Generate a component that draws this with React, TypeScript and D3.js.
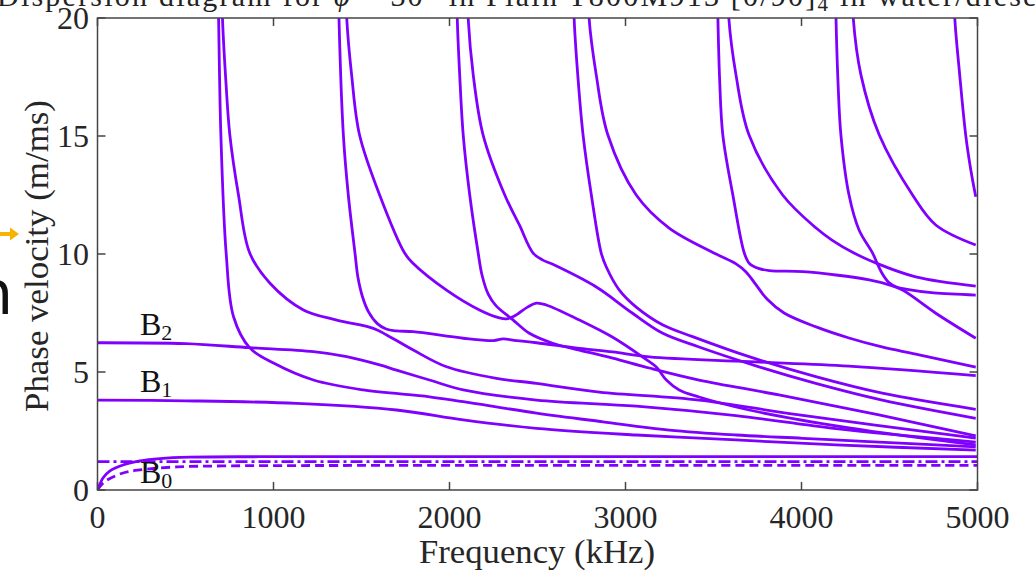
import React from 'react';
import * as d3 from 'd3';

type Pt = [number, number];

const xTicks = [0, 1000, 2000, 3000, 4000, 5000];
const yTicks = [0, 5, 10, 15, 20];

const titleText = 'Dispersion diagram for ';
const xLabel = 'Frequency (kHz)';
const yLabel = 'Phase velocity (m/ms)';

// fundamental / fluid lines
const b0Solid: Pt[] = [[0, 0], [14, 0.25], [31, 0.51], [71, 0.81], [145, 1.06], [241, 1.23], [355, 1.33], [525, 1.39], [922, 1.41], [2500, 1.41], [5000, 1.41]];
const fluidDashed: Pt[] = [[0, 0], [20, 0.2], [54, 0.42], [145, 0.72], [241, 0.85], [428, 0.97], [712, 1.02], [1500, 1.04], [5000, 1.04]];
const fluidDashDot: Pt[] = [[0, 1.2], [5000, 1.2]];

const modeB1: Pt[] = [[0, 3.81], [500, 3.78], [1132, 3.67], [1699, 3.39], [2078, 2.97], [2494, 2.61], [3061, 2.33], [3628, 2.12], [4196, 1.91], [4990, 1.69]];
const modeB2: Pt[] = [[0, 6.24], [500, 6.2], [865, 6.03], [1227, 5.86], [1416, 5.65], [1603, 5.3], [1699, 5.08], [1886, 4.66], [2078, 4.24], [2494, 3.81], [3061, 3.55], [3628, 3.15], [4196, 2.6], [4990, 2.03]];
const mode1L: Pt[] = [[684, 21.5], [688, 20], [701, 15.04], [731, 10.04], [773, 7.34], [865, 6.02], [1000, 5.38], [1227, 4.66], [1510, 4.24], [1886, 3.95], [2078, 3.74], [2494, 3.26], [2872, 2.89], [3248, 2.54], [3628, 2.33], [4007, 2.19], [4383, 2.05], [4990, 1.83]];
const mode1R: Pt[] = [[706, 21.5], [710, 20], [729, 17.37], [752, 15.04], [801, 12.5], [865, 10.04], [980, 8.76], [1170, 7.63], [1359, 7.2], [1567, 6.85], [1643, 6.57], [1794, 5.93], [1983, 5.22], [2267, 4.73], [2494, 4.52], [2851, 4.15], [3418, 3.81], [3986, 3.18], [4990, 2.2]];
const mode2L: Pt[] = [[1369, 21.5], [1372, 20], [1397, 15.04], [1425, 12.5], [1463, 10.04], [1480, 9.0], [1505, 8.2], [1540, 7.55], [1590, 7.05], [1640, 6.82], [1700, 6.74], [1794, 6.71], [2078, 6.43], [2250, 6.33], [2305, 6.4], [2380, 6.33], [2494, 6.24], [2738, 6.0], [2927, 5.85], [3135, 5.64], [3702, 5.44], [4270, 5.25], [4990, 4.85]];
const mode2R: Pt[] = [[1412, 21.5], [1416, 20], [1444, 17.58], [1489, 15.04], [1603, 12.5], [1745, 10.04], [1791, 9.62], [1983, 8.47], [2170, 7.63], [2284, 7.29], [2324, 7.25], [2369, 7.37], [2443, 7.75], [2494, 7.92], [2550, 7.84], [2738, 7.2], [2925, 6.48], [3096, 5.64], [3175, 5.21], [3232, 4.66], [3305, 4.24], [3418, 3.94], [3702, 3.39], [4270, 2.63], [4990, 1.91]];
const mode3L: Pt[] = [[2041, 21.5], [2044, 20], [2058, 17.58], [2078, 15.04], [2115, 12.5], [2163, 10.04], [2185, 9.1], [2220, 8.3], [2265, 7.8], [2359, 7.22], [2454, 6.64], [2586, 6.22], [2738, 5.93], [2927, 5.59], [3135, 5.17], [3418, 4.66], [3872, 4.03], [4440, 3.18], [4990, 2.29]];
const mode3R: Pt[] = [[2102, 21.5], [2106, 20], [2135, 17.58], [2191, 15.04], [2314, 12.5], [2397, 11.23], [2475, 10.04], [2528, 9.75], [2596, 9.53], [2834, 8.6], [3038, 7.5], [3209, 6.65], [3418, 6.06], [3759, 5.22], [4081, 4.52], [4459, 3.81], [4990, 3.04]];
const mode4L: Pt[] = [[2705, 21.5], [2708, 20], [2731, 17.37], [2759, 15.04], [2806, 12.5], [2862, 10.04], [2891, 9.45], [2965, 8.47], [3061, 7.75], [3213, 6.99], [3381, 6.5], [3702, 5.65], [4081, 4.8], [4459, 4.1], [4990, 3.42]];
const mode4R: Pt[] = [[2789, 21.5], [2793, 20], [2834, 17.58], [2900, 15.04], [3061, 12.5], [3248, 11.1], [3515, 10.0], [3628, 9.58], [3685, 9.24], [3742, 8.69], [3804, 8.09], [3901, 7.5], [4083, 6.91], [4270, 6.44], [4457, 6.06], [4649, 5.76], [4990, 5.21]];
const mode5L: Pt[] = [[3522, 21.5], [3525, 20], [3535, 17.37], [3553, 15.04], [3610, 12.5], [3675, 10.04], [3704, 9.6], [3760, 9.38], [3817, 9.3], [4007, 9.25], [4196, 9.11], [4385, 8.9], [4498, 8.69], [4574, 8.47], [4763, 7.49], [4990, 6.43]];
const mode5R: Pt[] = [[3583, 21.5], [3587, 20], [3628, 17.58], [3702, 15.04], [3893, 12.5], [4083, 11.1], [4173, 10.59], [4298, 10.04], [4422, 9.62], [4649, 9.03], [4990, 8.64]];
const mode6L: Pt[] = [[4193, 21.5], [4196, 20], [4207, 17.37], [4224, 15.04], [4270, 12.5], [4327, 11.02], [4404, 10.04], [4430, 9.6], [4460, 9.15], [4495, 8.8], [4540, 8.6], [4600, 8.5], [4752, 8.35], [4990, 8.26]];
const mode6R: Pt[] = [[4290, 21.5], [4294, 20], [4338, 17.58], [4442, 15.04], [4631, 12.5], [4763, 11.23], [4990, 10.38]];
const mode7: Pt[] = [[4867, 21.5], [4871, 20], [4899, 17.58], [4933, 15.04], [4962, 13.56], [4990, 12.43]];

const solidModes: Pt[][] = [b0Solid, modeB1, modeB2, mode1L, mode1R, mode2L, mode2R, mode3L, mode3R, mode4L, mode4R, mode5L, mode5R, mode6L, mode6R, mode7];

const LINE = '#8000ff';
const AX = '#454545';
const SERIF = '"Liberation Serif", "DejaVu Serif", serif';

export default function App() {
  const W = 1035, H = 570;
  const x = d3.scaleLinear().domain([0, 5000]).range([97.5, 977.5]);
  const y = d3.scaleLinear().domain([0, 20]).range([490, 18]);
  const line = d3.line<Pt>().x(d => x(d[0])).y(d => y(d[1])).curve(d3.curveCatmullRom.alpha(0.5));
  const [x0, x1] = x.range();
  const [y0, y1] = y.range();

  return (
    <svg width={W} height={H} style={{ position: 'absolute', left: 0, top: 0, background: '#fff' }} fontFamily={SERIF}>
      <defs>
        <clipPath id="plot"><rect x={x0} y={y1} width={x1 - x0} height={y0 - y1} /></clipPath>
      </defs>
      {/* stray slide artefacts */}
      <path d="M0,232 L10,232 L10,227.5 L19,234 L10,240.5 L10,236 L0,236 Z" fill="#f5b400" />
      <text x={-25} y={314} fontFamily='"DejaVu Sans", sans-serif' fontSize={60} fill="#111">n</text>

      {/* title, mostly cut off at the top */}
      <text x={-3} y={6} fontSize={30} fill="#222" textLength={1050} lengthAdjust="spacing">
        {titleText}<tspan fontStyle="italic">ϕ</tspan> = 30° in Plain T800M913 [0/90]<tspan fontSize={21} dy={5}>4</tspan><tspan dy={-5}> in water/diesel</tspan>
      </text>

      <g clipPath="url(#plot)" fill="none" stroke={LINE} strokeWidth={2.8} strokeLinejoin="round">
        <path d={line(fluidDashDot) || ''} strokeDasharray="12,4,3,4" />
        <path d={line(fluidDashed) || ''} strokeDasharray="9,5" />
        {solidModes.map((m, i) => <path key={i} d={line(m) || ''} />)}
      </g>

      {/* axes box */}
      <g stroke={AX} strokeWidth={1.5} fill="none">
        <rect x={x0} y={y1} width={x1 - x0} height={y0 - y1} />
        {xTicks.map(t => (
          <g key={'xt' + t}>
            <line x1={x(t)} x2={x(t)} y1={y0} y2={y0 - 8} />
            <line x1={x(t)} x2={x(t)} y1={y1} y2={y1 + 8} />
          </g>
        ))}
        {yTicks.map(t => (
          <g key={'yt' + t}>
            <line x1={x0} x2={x0 + 8} y1={y(t)} y2={y(t)} />
            <line x1={x1} x2={x1 - 8} y1={y(t)} y2={y(t)} />
          </g>
        ))}
      </g>
      <g fontSize={32} fill="#262626">
        {xTicks.map(t => (
          <text key={'xl' + t} x={x(t)} y={528} textAnchor="middle">{t}</text>
        ))}
        {yTicks.map(t => (
          <text key={'yl' + t} x={89} y={y(t) + 11} textAnchor="end">{t}</text>
        ))}
      </g>
      <text x={537} y={563} fontSize={33} textAnchor="middle" fill="#262626" textLength={236} lengthAdjust="spacingAndGlyphs">{xLabel}</text>
      <text transform="translate(48,256) rotate(-90)" fontSize={33} textAnchor="middle" fill="#262626" textLength={312} lengthAdjust="spacingAndGlyphs">{yLabel}</text>

      {/* mode labels */}
      <g fontSize={32} fill="#111">
        <text x={140} y={335}>B<tspan fontSize={22} dy={5}>2</tspan></text>
        <text x={140} y={392}>B<tspan fontSize={22} dy={5}>1</tspan></text>
        <text x={140} y={483}>B<tspan fontSize={22} dy={5}>0</tspan></text>
      </g>
    </svg>
  );
}
